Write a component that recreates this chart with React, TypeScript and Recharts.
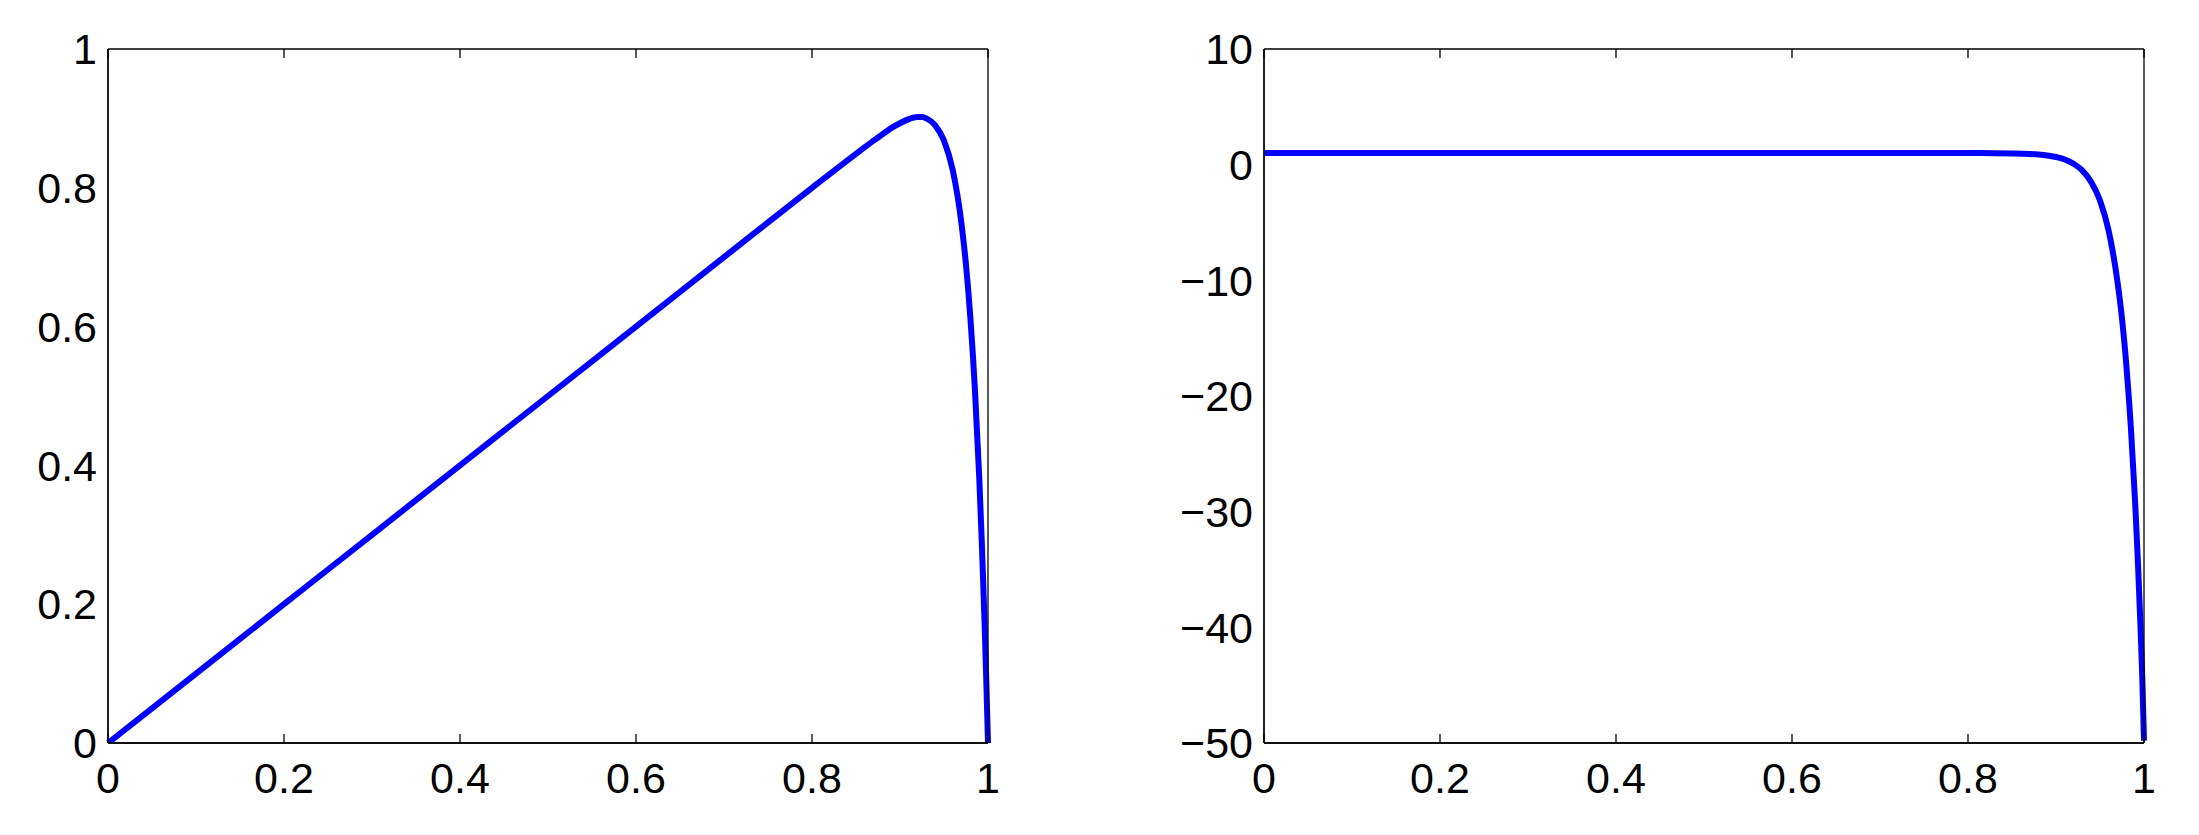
import { LineChart, Line, XAxis, YAxis } from "recharts";

// values
const xValues = [0, 0.1, 0.2, 0.3, 0.4, 0.5, 0.6, 0.7, 0.8, 0.85, 0.87, 0.88, 0.89, 0.9, 0.91, 0.92, 0.925, 0.93, 0.94, 0.95, 0.96, 0.97, 0.975, 0.98, 0.985, 0.99, 0.993, 0.996, 0.998, 1];
const leftValues = [0, 0.1, 0.2, 0.3, 0.4, 0.5, 0.6, 0.7, 0.8, 0.849, 0.868, 0.877, 0.886, 0.893, 0.899, 0.902, 0.902, 0.9, 0.89, 0.868, 0.825, 0.747, 0.689, 0.612, 0.513, 0.384, 0.288, 0.177, 0.093, 0];
const rightValues = [1, 1, 1, 1, 1, 1, 1, 1, 1, 0.97, 0.93, 0.88, 0.8, 0.66, 0.45, 0.08, -0.18, -0.51, -1.49, -3.1, -5.77, -10.2, -13.3, -17.4, -22.6, -29.3, -34.2, -39.9, -44.2, -49.8];

const xTicks = [0, 0.2, 0.4, 0.6, 0.8, 1];
const leftYTicks = [0, 0.2, 0.4, 0.6, 0.8, 1];
const rightYTicks = [-50, -40, -30, -20, -10, 0, 10];

const leftData = xValues.map((x, i) => ({ x, y: leftValues[i] }));
const rightData = xValues.map((x, i) => ({ x, y: rightValues[i] }));

const FONT = "'Liberation Sans', Arial, Helvetica, sans-serif";
const tickStyle = { fontSize: 43, fill: "#000", fontFamily: FONT };
const axisLine = { stroke: "#000", strokeWidth: 1.3 };
const tickLine = { stroke: "#000", strokeWidth: 1.3 };
const fmt = (v: number) => (v < 0 ? "\u2212" + Math.abs(v) : String(v));
const blank = () => "";

interface PanelProps {
  data: { x: number; y: number }[];
  yTicks: number[];
  yDomain: [number, number];
  width: number;
  yAxisWidth: number;
  rightMargin: number;
}

const Panel = ({ data, yTicks, yDomain, width, yAxisWidth, rightMargin }: PanelProps) => (
  <LineChart width={width} height={835} data={data} margin={{ top: 49, right: rightMargin, bottom: 0, left: 0 }}>
    {/* labelled axes */}
    <XAxis xAxisId="x" dataKey="x" type="number" domain={[0, 1]} ticks={xTicks} height={92}
      tick={tickStyle} tickFormatter={fmt} tickLine={false} tickSize={0} tickMargin={19} axisLine={axisLine} />
    <YAxis yAxisId="y" type="number" domain={yDomain} ticks={yTicks} width={yAxisWidth} allowDataOverflow
      tick={tickStyle} tickFormatter={fmt} tickLine={false} tickSize={0} tickMargin={11} axisLine={axisLine} />
    {/* inward ticks on all four sides */}
    <XAxis xAxisId="xb" dataKey="x" type="number" domain={[0, 1]} ticks={xTicks} orientation="bottom" mirror
      tickFormatter={blank} tickSize={9} tickLine={tickLine} axisLine={axisLine} />
    <XAxis xAxisId="xt" dataKey="x" type="number" domain={[0, 1]} ticks={xTicks} orientation="top" mirror
      tickFormatter={blank} tickSize={9} tickLine={tickLine} axisLine={axisLine} />
    <YAxis yAxisId="yl" type="number" domain={yDomain} ticks={yTicks} orientation="left" mirror
      tickFormatter={blank} tickSize={9} tickLine={tickLine} axisLine={axisLine} />
    <YAxis yAxisId="yr" type="number" domain={yDomain} ticks={yTicks} orientation="right" mirror
      tickFormatter={blank} tickSize={9} tickLine={tickLine} axisLine={axisLine} />
    <Line xAxisId="x" yAxisId="y" type="monotone" dataKey="y" stroke="#0000ff" strokeWidth={6}
      dot={false} isAnimationActive={false} />
  </LineChart>
);

export default function App() {
  return (
    <div style={{ position: "absolute", left: 0, top: 0, width: 2199, height: 835, background: "#fff" }}>
      <div style={{ position: "absolute", left: 0, top: 0 }}>
        <Panel data={leftData} yTicks={leftYTicks} yDomain={[0, 1]} width={1100} yAxisWidth={108} rightMargin={112} />
      </div>
      <div style={{ position: "absolute", left: 1100, top: 0 }}>
        <Panel data={rightData} yTicks={rightYTicks} yDomain={[-50, 10]} width={1099} yAxisWidth={164} rightMargin={55} />
      </div>
    </div>
  );
}
